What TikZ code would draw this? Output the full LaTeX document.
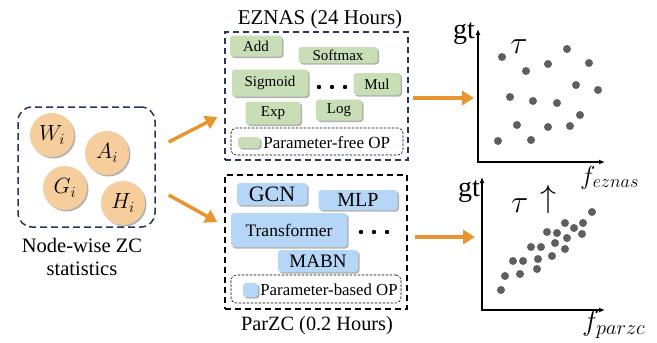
\RequirePackage{fix-cm}
\documentclass[tikz,border=0pt]{standalone}
\usepackage{fontspec}
\setmainfont{Liberation Serif}
\usetikzlibrary{arrows.meta,shadows,positioning,calc}
\definecolor{navy}{HTML}{24365A}
\definecolor{peach}{HTML}{F6CE9D}
\definecolor{opgreen}{HTML}{C8DEB6}
\definecolor{opblue}{HTML}{B5D6F6}
\definecolor{arrorange}{HTML}{E8942F}
\definecolor{dotgray}{HTML}{5F5F5F}
\newcommand{\fs}[1]{\fontsize{#1}{#1}\selectfont}
\begin{document}
\begin{tikzpicture}[x=1pt,y=-1pt,
	shad/.style={drop shadow={shadow xshift=1.5pt,shadow yshift=-1.5pt,opacity=0.3,fill=black}},
	zcball/.style={circle,fill=peach,minimum size=44pt,inner sep=0pt,shad,font=\fs{22}},
	opfree/.style={rounded corners=3pt,fill=opgreen,inner sep=0pt,shad,font=\fs{15}},
	opbased/.style={rounded corners=3pt,fill=opblue,inner sep=0pt,shad},
	orarrow/.style={draw=arrorange,line width=3.5pt,-{Triangle[length=12pt,width=14pt]}},
	axis/.style={draw,line width=1.2pt,{Latex[length=6pt,width=5pt]}-{Latex[length=6pt,width=5pt]}},
	legbox/.style={draw,rounded corners=5pt,line width=0.6pt,dash pattern=on 2.5pt off 1.5pt,inner sep=0pt}]
	\useasboundingbox (0,0) rectangle (657,343);
	% node-wise statistics
	\node[draw=navy,line width=1.5pt,dash pattern=on 7pt off 4pt,rounded corners=14pt,minimum width=137pt,minimum height=120pt] (lbox) at (86.5,167) {};
	\node[zcball] (w) at (52,135) {$W_i$};
	\node[zcball] (a) at (107,153) {$A_i$};
	\node[zcball] (g) at (65,188) {$G_i$};
	\node[zcball] (h) at (123,203) {$H_i$};
	\node[align=center,anchor=base,font=\fontsize{20.5}{23}\selectfont] (lbl) at (82,275) {Node-wise ZC\\statistics};
	% EZNAS
	\node[draw=navy,line width=1.3pt,dash pattern=on 6pt off 4pt,minimum width=183pt,minimum height=128pt] (ezbox) at (316.5,96) {};
	\node[anchor=base,font=\fs{21}] (eztitle) at (320,24) {EZNAS (24 Hours)};
	\node[opfree,minimum width=52pt,minimum height=21pt] (add) at (256,46) {Add};
	\node[opfree,minimum width=79pt,minimum height=16pt] (softmax) at (338,55) {Softmax};
	\node[opfree,minimum width=76pt,minimum height=27pt] (sigmoid) at (270,83) {Sigmoid};
	\node[opfree,minimum width=47pt,minimum height=22pt] (mul) at (377,84) {Mul};
	\node[opfree,minimum width=55pt,minimum height=23pt] (exp) at (273,113) {Exp};
	\node[opfree,minimum width=46pt,minimum height=21pt] (log) at (339,110) {Log};
	\foreach \x in {319,332,345} \fill (\x,87) circle (2.2);
	\node[legbox,minimum width=172pt,minimum height=27pt] (legfree) at (317,141.5) {};
	\node[opfree,minimum width=22pt,minimum height=11pt] (sqfree) at (249,142.5) {};
	\node[right=3pt of sqfree,inner sep=0pt,font=\fs{17}] {Parameter-free OP};
	% ParZC
	\node[draw,line width=1.3pt,dash pattern=on 6pt off 4pt,minimum width=182pt,minimum height=134pt] (pzbox) at (316,242) {};
	\node[anchor=base,font=\fs{20.3}] (pztitle) at (317,330) {ParZC (0.2 Hours)};
	\node[opbased,minimum width=70pt,minimum height=22pt,font=\fs{22}] (gcn) at (272,194) {GCN};
	\node[opbased,minimum width=79pt,minimum height=20pt,font=\fs{20}] (mlp) at (358,200) {MLP};
	\node[opbased,minimum width=116pt,minimum height=34pt,font=\fs{17.5}] (trans) at (289,230) {Transformer};
	\node[opbased,minimum width=80pt,minimum height=22pt,font=\fs{19}] (mabn) at (318,261) {MABN};
	\foreach \x in {361,374,387} \fill (\x,232) circle (2.2);
	\node[legbox,minimum width=170pt,minimum height=28pt] (legbased) at (316,289) {};
	\node[opbased,minimum width=15pt,minimum height=14pt] (sqbased) at (250.5,290) {};
	\node[right=2pt of sqbased,inner sep=0pt,font=\fs{16.8}] {Parameter-based OP};
	% arrows
	\draw[orarrow] ($(lbox.east)+(13,-25)$) -- ($(ezbox.west)+(-7,21)$);
	\draw[orarrow] ($(lbox.east)+(13,28)$) -- ($(pzbox.west)+(-7,-20)$);
	% plot eznas
	\coordinate (o1) at (478,162);
	\coordinate (top1) at (478,29);
	\coordinate (end1) at (605,162);
	\draw[axis] (top1) |- (end1);
	\draw[orarrow] ($(ezbox.east)+(4,2)$) -- ($(ezbox.east -| o1)+(-4,2)$);
	\node[anchor=base east,inner sep=0pt,font=\fs{28}] (gt1) at (475,38) {gt};
	\node[inner sep=0pt,font=\fs{32}] (tau1) at (519,47) {$\tau$};
	\node[anchor=base west,inner sep=0pt,font=\fs{26}] (f1) at (580,184) {$f_{eznas}$};
	\foreach \p in {(502,57),(567,49),(526,71),(548,64),(589,63),(510,97),(533,101),(557,103),
		(576,85),(598,90),(580,115),(517,125),(548,127),(570,126),(498,141),(531,140)}
		\fill[dotgray] \p circle (4);
	% plot parzc
	\coordinate (o2) at (482,310);
	\coordinate (top2) at (482,177);
	\coordinate (end2) at (605,310);
	\draw[axis] (top2) |- (end2);
	\draw[orarrow] ($(pzbox.east)+(7,-5)$) -- ($(pzbox.east -| o2)+(-7,-5)$);
	\node[anchor=base east,inner sep=0pt,font=\fs{28}] (gt2) at (480,196) {gt};
	\node[anchor=base west,inner sep=0pt,font=\fs{32}] (tau2) at (511,212) {$\tau$\hspace{12pt}\raisebox{5pt}{$\uparrow$}};
	\node[anchor=base west,inner sep=0pt,font=\fs{29}] (f2) at (582,330) {$f_{parzc}$};
	\foreach \p in {(501,290),(505,276),(513,261),(523,261),(520,274),(537,269),(531,247),
		(541,247),(538,259),(552,256),(547,232),(557,233),(555,243),(567,238),(565,249),
		(565,223),(574,228),(583,223),(582,234),(592,212)}
		\fill[dotgray] \p circle (4);
\end{tikzpicture}
\end{document}
